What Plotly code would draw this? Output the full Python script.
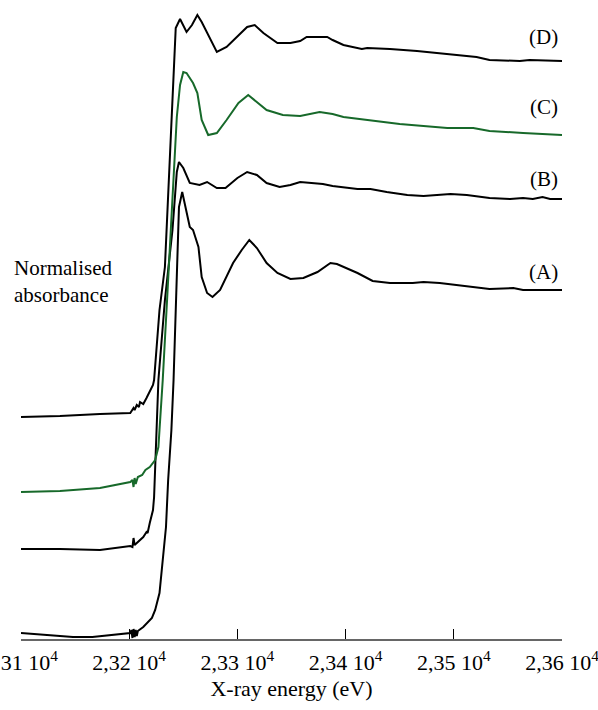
import plotly.graph_objects as go

# ---- data ----
energy_A = [23100, 23127, 23148, 23166, 23201, 23202, 23203, 23204, 23205, 23206, 23207, 23208, 23213,
            23221, 23224, 23228, 23230, 23231, 23234, 23236, 23239, 23241, 23244, 23246, 23249,
            23253, 23256, 23259, 23264, 23267, 23272, 23277, 23284, 23296, 23304, 23311, 23318,
            23327, 23337, 23349, 23361, 23374, 23386, 23392, 23411, 23425, 23441, 23462, 23472,
            23487, 23518, 23533, 23555, 23564, 23600]
absorb_A = [0.06, 0.04, 0.02, 0.02, 0.06, 0.09, 0.01, 0.10, 0.02, 0.09, 0.03, 0.08, 0.12,
            0.21, 0.29, 0.46, 0.69, 0.79, 1.12, 1.59, 2.09, 2.59, 3.72, 4.32, 4.47,
            4.26, 4.12, 4.09, 3.92, 3.62, 3.46, 3.42, 3.49, 3.76, 3.89, 3.99, 3.91,
            3.76, 3.66, 3.60, 3.61, 3.67, 3.76, 3.75, 3.66, 3.58, 3.56, 3.56, 3.57,
            3.56, 3.52, 3.50, 3.51, 3.49, 3.49]

energy_B = [23100, 23136, 23173, 23201, 23203, 23204, 23205, 23207, 23210, 23213, 23216, 23217, 23219,
            23222, 23223, 23224, 23226, 23227, 23233, 23240, 23244, 23246,
            23250, 23256, 23265, 23272, 23281, 23289, 23300, 23309, 23318, 23327, 23339, 23349,
            23358, 23379, 23388, 23411, 23423, 23438, 23457, 23472, 23497, 23512, 23533, 23552,
            23564, 23573, 23582, 23589, 23600]
absorb_B = [0.90, 0.90, 0.89, 0.93, 0.92, 1.01, 0.94, 0.96, 0.99, 1.02, 1.07, 1.06, 1.16,
            1.29, 1.42, 1.76, 2.26, 2.59, 3.39, 4.09, 4.67, 4.77,
            4.71, 4.56, 4.54, 4.57, 4.51, 4.51, 4.61, 4.67, 4.64, 4.56, 4.52, 4.54,
            4.57, 4.55, 4.53, 4.50, 4.50, 4.47, 4.44, 4.43, 4.45, 4.44, 4.41, 4.40,
            4.41, 4.40, 4.42, 4.40, 4.40]

energy_C = [23100, 23136, 23173, 23201, 23203, 23204, 23205, 23206, 23208, 23210, 23212, 23215, 23219,
            23224, 23227, 23228, 23230, 23231, 23235, 23240, 23244, 23247, 23250,
            23253, 23259, 23263, 23267, 23273, 23281, 23290, 23301, 23310, 23318, 23327, 23342,
            23358, 23376, 23388, 23398, 23413, 23429, 23450, 23472, 23494, 23518, 23533, 23564, 23600]
absorb_C = [1.47, 1.48, 1.51, 1.57, 1.59, 1.52, 1.61, 1.55, 1.62, 1.63, 1.64, 1.69, 1.72,
            1.79, 1.92, 2.09, 2.42, 2.59, 3.39, 4.39, 5.22, 5.54, 5.67,
            5.66, 5.56, 5.46, 5.19, 5.04, 5.06, 5.19, 5.36, 5.44, 5.37, 5.29, 5.24,
            5.23, 5.27, 5.25, 5.22, 5.20, 5.18, 5.15, 5.13, 5.11, 5.11, 5.08, 5.06, 5.04]

energy_D = [23100, 23136, 23173, 23201, 23204, 23205, 23207, 23209, 23210, 23213, 23216, 23219, 23222,
            23223, 23228, 23233, 23240, 23243, 23247, 23253, 23258, 23263, 23267, 23275, 23281,
            23290, 23300, 23309, 23316, 23324, 23337, 23349, 23358, 23364, 23383, 23388, 23398,
            23415, 23420, 23441, 23466, 23496, 23521, 23533, 23561, 23570, 23600]
absorb_D = [2.22, 2.23, 2.25, 2.26, 2.31, 2.29, 2.34, 2.32, 2.37, 2.35, 2.41, 2.47, 2.54,
            2.59, 3.29, 3.72, 5.39, 6.11, 6.20, 6.07, 6.14, 6.24, 6.17, 5.99, 5.87,
            5.92, 6.02, 6.12, 6.14, 6.06, 5.96, 5.96, 5.98, 6.02, 6.02, 5.99, 5.94,
            5.90, 5.91, 5.90, 5.88, 5.85, 5.82, 5.79, 5.78, 5.79, 5.78]

series_names = ["(A)", "(B)", "(C)", "(D)"]
label_y = [3.67, 4.60, 5.32, 6.02]
tick_vals = [23100, 23200, 23300, 23400, 23500, 23600]
tick_text = ["2,31 10<sup>4</sup>", "2,32 10<sup>4</sup>", "2,33 10<sup>4</sup>",
             "2,34 10<sup>4</sup>", "2,35 10<sup>4</sup>", "2,36 10<sup>4</sup>"]

FONT = "Liberation Serif"
BLACK = "#000000"
GREEN = "#17692a"

fig = go.Figure()
for xs, ys, col, name in [(energy_A, absorb_A, BLACK, "(A)"),
                          (energy_B, absorb_B, BLACK, "(B)"),
                          (energy_C, absorb_C, GREEN, "(C)"),
                          (energy_D, absorb_D, BLACK, "(D)")]:
    fig.add_trace(go.Scatter(x=xs, y=ys, mode="lines", name=name,
                             line=dict(color=col, width=2), showlegend=False,
                             cliponaxis=False))

for name, ly in zip(series_names, label_y):
    fig.add_annotation(x=23598, y=ly, text=name, showarrow=False,
                       xanchor="right", yanchor="middle",
                       font=dict(family=FONT, size=21, color="#000"))

fig.add_annotation(xref="paper", yref="paper", x=-0.0166, y=0.5676,
                   text="Normalised<br>absorbance", showarrow=False,
                   xanchor="left", yanchor="middle", align="left",
                   font=dict(family=FONT, size=21, color="#000"))

fig.update_layout(
    width=598, height=710,
    margin=dict(l=21, r=36, t=10, b=71, autoexpand=False),
    paper_bgcolor="white", plot_bgcolor="white",
    font=dict(family=FONT, size=21, color="#000"),
    xaxis=dict(range=[23100, 23600], tickvals=tick_vals, ticktext=tick_text,
               ticks="inside", ticklen=10, tickwidth=1, tickcolor="#000",
               showline=True, linecolor="#666", linewidth=1.5,
               showgrid=False, zeroline=False, ticklabelstandoff=3,
               ticklabeloverflow="allow", automargin=False,
               tickfont=dict(family=FONT, size=22, color="#000"),
               title=dict(text="X-ray energy (eV)", standoff=6,
                          font=dict(family=FONT, size=22, color="#000"))),
    yaxis=dict(range=[0, 6.29], visible=False, showgrid=False, zeroline=False),
)

fig.write_html("out.html")
